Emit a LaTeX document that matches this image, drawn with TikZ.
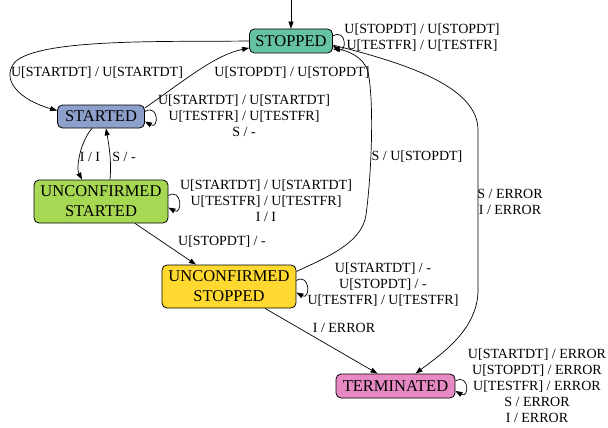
\documentclass[tikz,border=0pt]{standalone}
\usepackage{fontspec}
\setmainfont{Liberation Serif}
\usetikzlibrary{arrows.meta}
\definecolor{cstop}{HTML}{66C2A5}
\definecolor{cstart}{HTML}{8DA0CB}
\definecolor{custart}{HTML}{A6D854}
\definecolor{custop}{HTML}{FFD92F}
\definecolor{cterm}{HTML}{E78AC3}
\begin{document}
\begin{tikzpicture}[x=1pt,y=-1pt,
  state/.style={draw, rounded corners=5pt, line width=0.8pt, inner sep=0pt,
    font=\fontsize{16.5}{20}\selectfont, align=center},
  lbl/.style={font=\fontsize{14}{16}\selectfont, align=center, inner sep=0pt},
  edge/.style={draw, line width=0.7pt, -{Triangle[length=7pt,width=5pt]}}]
\useasboundingbox (0,0) rectangle (608,428);

\node[state, fill=cstop, minimum width=83pt, minimum height=24pt] (stopped) at (291,41) {STOPPED};
\node[state, fill=cstart, minimum width=87pt, minimum height=23pt] (started) at (101,116.5) {STARTED};
\node[state, fill=custart, minimum width=134pt, minimum height=43pt] (ustarted) at (101,201.5) {UNCONFIRMED\\STARTED};
\node[state, fill=custop, minimum width=134pt, minimum height=43pt] (ustopped) at (229,286.5) {UNCONFIRMED\\STOPPED};
\node[state, fill=cterm, minimum width=119pt, minimum height=24pt] (term) at (395.5,386) {TERMINATED};

\coordinate (init) at (291,0);
\draw[edge] (init) -- (stopped);

% STOPPED -> STARTED
\draw[edge] (stopped.west) .. controls (170,42) and (40,38) .. (15,62) .. controls (0,80) and (20,100) .. ([yshift=6pt]started.west);
% STARTED -> STOPPED
\draw[edge] ([yshift=8.5pt]started.east) .. controls (185,80) and (215,55) .. ([yshift=-7pt]stopped.west);
% self loops
\draw[edge] ([yshift=5pt]stopped.east) .. controls +(14,-8) and +(14,8) .. ([yshift=-5pt]stopped.east);
\draw[edge] ([yshift=5pt]started.east) .. controls +(14,-8) and +(14,8) .. ([yshift=-5pt]started.east);
\draw[edge] ([yshift=6pt]ustarted.east) .. controls +(14,-8) and +(14,8) .. ([yshift=-6pt]ustarted.east);
\draw[edge] ([yshift=6pt]ustopped.east) .. controls +(14,-8) and +(14,8) .. ([yshift=-6pt]ustopped.east);
\draw[edge] ([yshift=5pt]term.east) .. controls +(14,-8) and +(14,8) .. ([yshift=-5pt]term.east);
% STARTED <-> UNCONFIRMED STARTED
\draw[edge] ([xshift=-9pt]started.south) .. controls (80,142) and (76,168) .. ([xshift=-19pt]ustarted.north);
\draw[edge] ([xshift=9pt]ustarted.north) .. controls (112,160) and (108,140) .. ([xshift=5pt]started.south);
% UNCONFIRMED STARTED -> UNCONFIRMED STOPPED
\draw[edge] ([xshift=34pt]ustarted.south) -- ([xshift=-33pt]ustopped.north);
% UNCONFIRMED STOPPED -> STOPPED
\draw[edge] ([yshift=15pt]ustopped.east) .. controls (330,256) and (362,242) .. (366,215) .. controls (372,170) and (374,100) .. (368,72) .. controls (364,56) and (345,50) .. ([yshift=-8pt]stopped.east);
% STOPPED -> TERMINATED
\draw[edge] ([yshift=-4pt]stopped.east) .. controls (400,62) and (478,85) .. (478,130) -- (478,290) .. controls (478,330) and (440,355) .. ([xshift=20pt]term.north);
% UNCONFIRMED STOPPED -> TERMINATED
\draw[edge] ([xshift=36pt]ustopped.south) -- ([xshift=-18pt]term.north);

% labels
\node[lbl] (l1) at (422,38) {U[STOPDT] / U[STOPDT]\\U[TESTFR] / U[TESTFR]};
\node[lbl] (l2) at (97,73) {U[STARTDT] / U[STARTDT]};
\node[lbl] (l3) at (292,73) {U[STOPDT] / U[STOPDT]};
\node[lbl] (l4) at (244,116) {U[STARTDT] / U[STARTDT]\\U[TESTFR] / U[TESTFR]\\S / -};
\node[lbl] (l5) at (90,157) {I / I};
\node[lbl] (l6) at (124,157) {S / -};
\node[lbl] (l7) at (266,201) {U[STARTDT] / U[STARTDT]\\U[TESTFR] / U[TESTFR]\\I / I};
\node[lbl] (l8) at (222,242) {U[STOPDT] / -};
\node[lbl] (l9) at (417,157) {S / U[STOPDT]};
\node[lbl] (l10) at (510,202) {S / ERROR\\I / ERROR};
\node[lbl] (l11) at (383,285) {U[STARTDT] / -\\U[STOPDT] / -\\U[TESTFR] / U[TESTFR]};
\node[lbl] (l12) at (344,328) {I / ERROR};
\node[lbl] (l13) at (537,386) {U[STARTDT] / ERROR\\U[STOPDT] / ERROR\\U[TESTFR] / ERROR\\S / ERROR\\I / ERROR};
\end{tikzpicture}
\end{document}
